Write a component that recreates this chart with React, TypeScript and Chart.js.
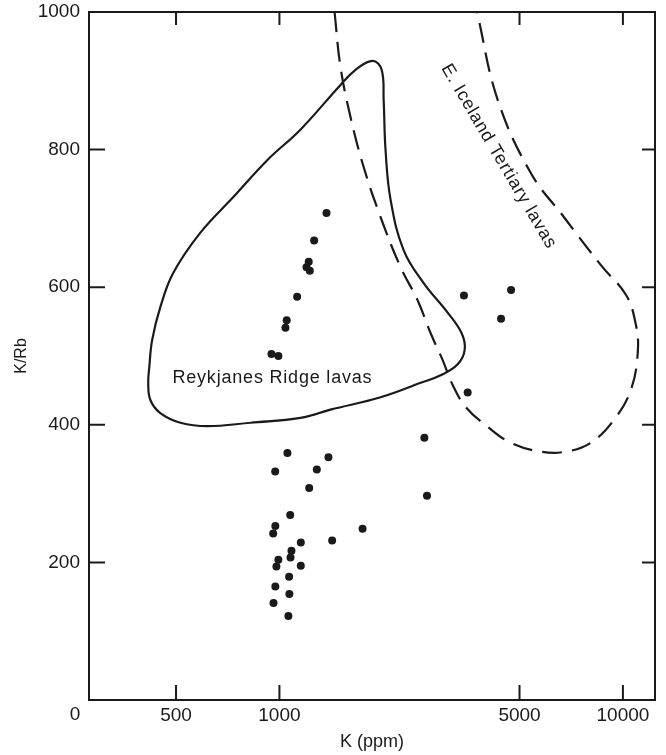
import React, { useEffect, useRef } from "react";
import { Chart, registerables } from "chart.js";

Chart.register(...registerables);

// ---- Data ----
const sampleK = [
  1371, 1262, 1217, 1199, 1226, 1126, 1050, 1041, 948, 993,
  3445, 4725, 4418, 3532, 2642, 2689, 1746, 1424,
  1055, 1389, 972, 1285, 1221, 1075, 973, 959, 1154, 1084,
  1077, 993, 980, 1154, 1067, 973, 1069, 961, 1062,
];
const sampleKRb = [
  708, 668, 637, 629, 624, 586, 552, 541, 503, 500,
  588, 596, 554, 447, 381, 297, 249, 232,
  359, 353, 332, 335, 308, 269, 253, 242, 229, 217,
  207, 204, 194, 195, 179, 165, 154, 141, 122,
];

// Reykjanes Ridge lavas field outline (closed; first/last points overlap for a smooth join)
const reykjanesK = [
  1408, 1151, 823, 617, 515, 450, 421, 415, 418, 426, 450, 491, 588, 734, 923, 1151,
  1506, 1666, 1867, 1984, 2011, 2037, 2107, 2299, 2630, 3089, 3393, 3462, 3303,
  2947, 2577, 1970, 1408, 1151, 823,
];
const reykjanesKRb = [
  422, 410, 403, 398, 403, 417, 436, 461, 484, 523, 571, 621, 679, 731, 785, 829,
  894, 916, 929, 916, 872, 799, 727, 654, 606, 563, 533, 509, 488,
  472, 461, 440, 422, 410, 403,
];

// E. Iceland Tertiary lavas field boundary (dashed)
const icelandK = [
  1447, 1506, 1611, 1758, 1970, 2253, 2525, 2756, 2987, 3194, 3485, 4041, 4716,
  5767, 6822, 8067, 9414, 10551, 11058, 10839, 10202, 8628, 6730, 5393, 4322, 3760,
];
const icelandKRb = [
  1000, 920, 847, 775, 702, 629, 581, 533, 494, 458, 426, 397, 374,
  361, 361, 374, 407, 451, 509, 552, 589, 632, 702, 766, 872, 1000,
];

const xTickValues = [500, 1000, 5000, 10000];
const yTickValues = [200, 400, 600, 800, 1000];
const X_MIN = 279;
const X_MAX = 12400;
const Y_MIN = 0;
const Y_MAX = 1000;

const reykjanesLabel = { text: "Reykjanes Ridge lavas", k: 954, krb: 468, angle: 0 };
const icelandLabel = { text: "E. Iceland Tertiary lavas", k: 4350, krb: 790, angle: 59.5 };

const INK = "#1a1a1a";
const FONT = '"Liberation Sans", Arial, Helvetica, sans-serif';

const toPts = (xs: number[], ys: number[]) => xs.map((x, i) => ({ x, y: ys[i] }));

const framePlugin = {
  id: "frame",
  beforeDraw(chart: any) {
    const { ctx, width, height } = chart;
    ctx.save();
    ctx.fillStyle = "#ffffff";
    ctx.fillRect(0, 0, width, height);
    ctx.restore();
  },
  afterDraw(chart: any) {
    const { ctx, chartArea, scales } = chart;
    const { left, right, top, bottom } = chartArea;
    const x = scales.x;
    const y = scales.y;
    ctx.save();
    ctx.strokeStyle = INK;
    ctx.lineWidth = 2;
    ctx.strokeRect(left, top, right - left, bottom - top);
    ctx.beginPath();
    for (const v of xTickValues) {
      const px = x.getPixelForValue(v);
      ctx.moveTo(px, bottom);
      ctx.lineTo(px, bottom - 15);
      ctx.moveTo(px, top);
      ctx.lineTo(px, top + 13);
    }
    for (const v of yTickValues) {
      if (v >= Y_MAX) continue;
      const py = y.getPixelForValue(v);
      ctx.moveTo(left, py);
      ctx.lineTo(left + 16, py);
      ctx.moveTo(right, py);
      ctx.lineTo(right - 13, py);
    }
    ctx.stroke();

    ctx.fillStyle = INK;
    ctx.font = `19px ${FONT}`;
    ctx.textAlign = "center";
    ctx.textBaseline = "middle";
    ctx.fillText("0", left - 14, bottom + 15);

    for (const lab of [reykjanesLabel, icelandLabel]) {
      const px = x.getPixelForValue(lab.k);
      const py = y.getPixelForValue(lab.krb);
      ctx.save();
      ctx.translate(px, py);
      ctx.rotate((lab.angle * Math.PI) / 180);
      ctx.font = `18px ${FONT}`;
      try {
        (ctx as any).letterSpacing = "0.8px";
      } catch (e) {}
      ctx.textAlign = "center";
      ctx.textBaseline = "middle";
      ctx.fillText(lab.text, 0, 0);
      ctx.restore();
    }
    ctx.restore();
  },
};

export default function App() {
  const canvasRef = useRef<HTMLCanvasElement | null>(null);

  useEffect(() => {
    if (!canvasRef.current) return;
    const chart = new Chart(canvasRef.current, {
      type: "scatter",
      data: {
        datasets: [
          {
            label: "Samples",
            data: toPts(sampleK, sampleKRb),
            pointRadius: 4,
            pointBackgroundColor: INK,
            pointBorderWidth: 0,
            showLine: false,
          },
          {
            label: "Reykjanes Ridge lavas",
            data: toPts(reykjanesK, reykjanesKRb),
            showLine: true,
            borderColor: INK,
            borderWidth: 2.2,
            tension: 0.4,
            pointRadius: 0,
            fill: false,
          },
          {
            label: "E. Iceland Tertiary lavas",
            data: toPts(icelandK, icelandKRb),
            showLine: true,
            borderColor: INK,
            borderWidth: 2.2,
            borderDash: [20, 10],
            tension: 0.4,
            pointRadius: 0,
            fill: false,
          },
        ],
      },
      options: {
        animation: false,
        responsive: true,
        maintainAspectRatio: false,
        layout: { padding: { top: 12, right: 11, left: 0, bottom: 0 } },
        plugins: {
          legend: { display: false },
          tooltip: { enabled: false },
        },
        scales: {
          x: {
            type: "logarithmic",
            position: "bottom",
            min: X_MIN,
            max: X_MAX,
            grid: { display: false, drawTicks: false },
            border: { display: false },
            afterBuildTicks: (s: any) => {
              s.ticks = xTickValues.map((value) => ({ value }));
            },
            afterFit: (s: any) => {
              s.height = 55;
              s.paddingLeft = 0;
              s.paddingRight = 0;
            },
            ticks: {
              autoSkip: false,
              maxRotation: 0,
              minRotation: 0,
              padding: 4,
              color: INK,
              font: { family: FONT, size: 19 },
              callback: (v: any) => String(v),
            },
            title: {
              display: true,
              text: "K (ppm)",
              color: INK,
              font: { family: FONT, size: 18 },
              padding: { top: 0, bottom: 2 },
            },
          },
          y: {
            type: "linear",
            min: Y_MIN,
            max: Y_MAX,
            grid: { display: false, drawTicks: false },
            border: { display: false },
            afterBuildTicks: (s: any) => {
              s.ticks = yTickValues.map((value) => ({ value }));
            },
            afterFit: (s: any) => {
              s.width = 89;
              s.paddingTop = 0;
              s.paddingBottom = 0;
            },
            ticks: {
              padding: 9,
              color: INK,
              font: { family: FONT, size: 19 },
              callback: (v: any) => String(v),
            },
            title: {
              display: true,
              text: "K/Rb",
              color: INK,
              font: { family: FONT, size: 16 },
              padding: { top: 12, bottom: 0 },
            },
          },
        },
      },
      plugins: [framePlugin],
    } as any);
    return () => chart.destroy();
  }, []);

  return (
    <div style={{ position: "absolute", left: 0, top: 0, width: 666, height: 755, background: "#fff" }}>
      <canvas ref={canvasRef} />
    </div>
  );
}
